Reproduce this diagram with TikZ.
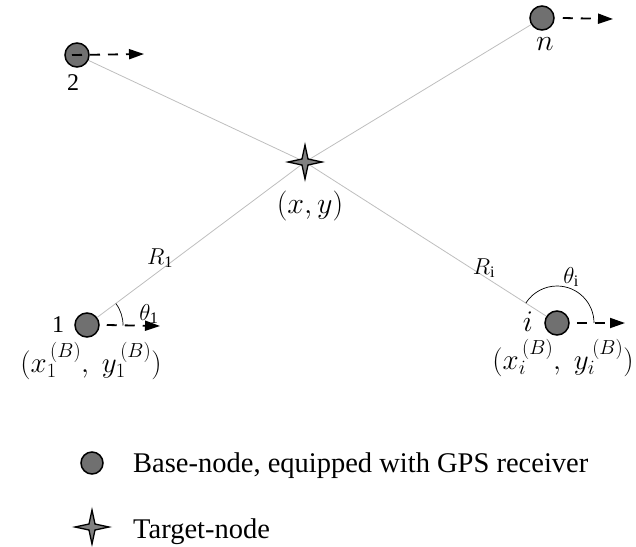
\documentclass[tikz,border=0pt]{standalone}
\usepackage{fix-cm}
\usepackage{fontspec}
\setmainfont{Liberation Serif}
\usetikzlibrary{arrows.meta,shapes.geometric,angles,backgrounds}

\definecolor{nodegray}{RGB}{112,112,112}
\definecolor{stargray}{RGB}{128,128,128}
\definecolor{linkgray}{RGB}{190,190,190}

\begin{document}
\begin{tikzpicture}[x=1pt,y=-1pt,
  base/.style={circle, draw=black, line width=1.5pt, fill=nodegray,
    minimum size=24pt, inner sep=0pt},
  target/.style={star, star points=4, star point ratio=4, draw=black,
    line width=1.3pt, fill=stargray, minimum size=34pt, inner sep=0pt},
  motion/.style={line width=1.8pt, dash pattern=on 10pt off 8pt,
    -{Triangle[length=15pt,width=10pt]}},
  link/.style={draw=linkgray, line width=0.8pt},
  anglemark/.style={draw=black, line width=0.7pt},
  txt/.style={font=\fontsize{24}{28}\selectfont, inner sep=0pt},
  mth/.style={font=\fontsize{30}{34}\selectfont, inner sep=0pt},
  crd/.style={font=\fontsize{29}{34}\selectfont, inner sep=0pt},
  sml/.style={font=\fontsize{23}{27}\selectfont, inner sep=0pt},
  legend/.style={font=\fontsize{28.5}{33}\selectfont, inner sep=0pt, anchor=base west}]
\useasboundingbox (0,0) rectangle (636,546);

% base nodes and the target
\node[base] (b2) at (77,55) {};
\node[base] (bn) at (542,18) {};
\node[base] (b1) at (87,325) {};
\node[base] (bi) at (557,323) {};
\node[target] (t) at (305,162) {};

% ranges from the base nodes to the target
\begin{scope}[on background layer]
  \draw[link] (b2) -- (t.center);
  \draw[link] (bn) -- (t.center);
  \draw[link] (b1) -- (t.center);
  \draw[link] (bi) -- (t.center);
\end{scope}

% heading of each base node
\coordinate (e2) at (144,54);
\coordinate (en) at (613,19);
\coordinate (e1) at (160,326);
\coordinate (ei) at (625,323);
\draw[motion] ([xshift=-5pt]b2.center) -- (e2);
\draw[motion] ([xshift=8pt]bn.east) -- (en);
\draw[motion] ([xshift=7pt]b1.east) -- (e1);
\draw[motion] ([xshift=7pt]bi.east) -- (ei);

% bearing angles
\pic[anglemark, angle radius=36pt] {angle = e1--b1--t};
\pic[anglemark, angle radius=37pt] {angle = ei--bi--t};

% labels
\node[txt] (l2) at (73,83) {2};
\node[mth] (ln) at (545,44) {$n$};
\node[txt] (l1) at (58,325) {1};
\node[mth] (li) at (528,322) {$i$};
\node[mth] (lt) at (310,206) {$(x,y)$};
\node[crd] (c1) at (91,361) {$(x_1^{\,(B)},\; y_1^{\,(B)})$};
\node[crd] (ci) at (563,358) {$(x_i^{\,(B)},\; y_i^{\,(B)})$};
\node[sml] (r1) at (160,258) {$R_{\mathrm{1}}$};
\node[sml] (ri) at (484,268) {$R_{\mathrm{i}}$};
\node[sml] (a1) at (149,314) {$\theta_{\mathrm{1}}$};
\node[sml] (ai) at (571,277) {$\theta_{\mathrm{i}}$};

% legend
\node[base, minimum size=22pt] (kb) at (92,463) {};
\node[legend] (kbt) at (133,472) {Base-node, equipped with GPS receiver};
\node[target] (kt) at (92,527) {};
\node[legend] (ktt) at (133,538) {Target-node};
\end{tikzpicture}
\end{document}
